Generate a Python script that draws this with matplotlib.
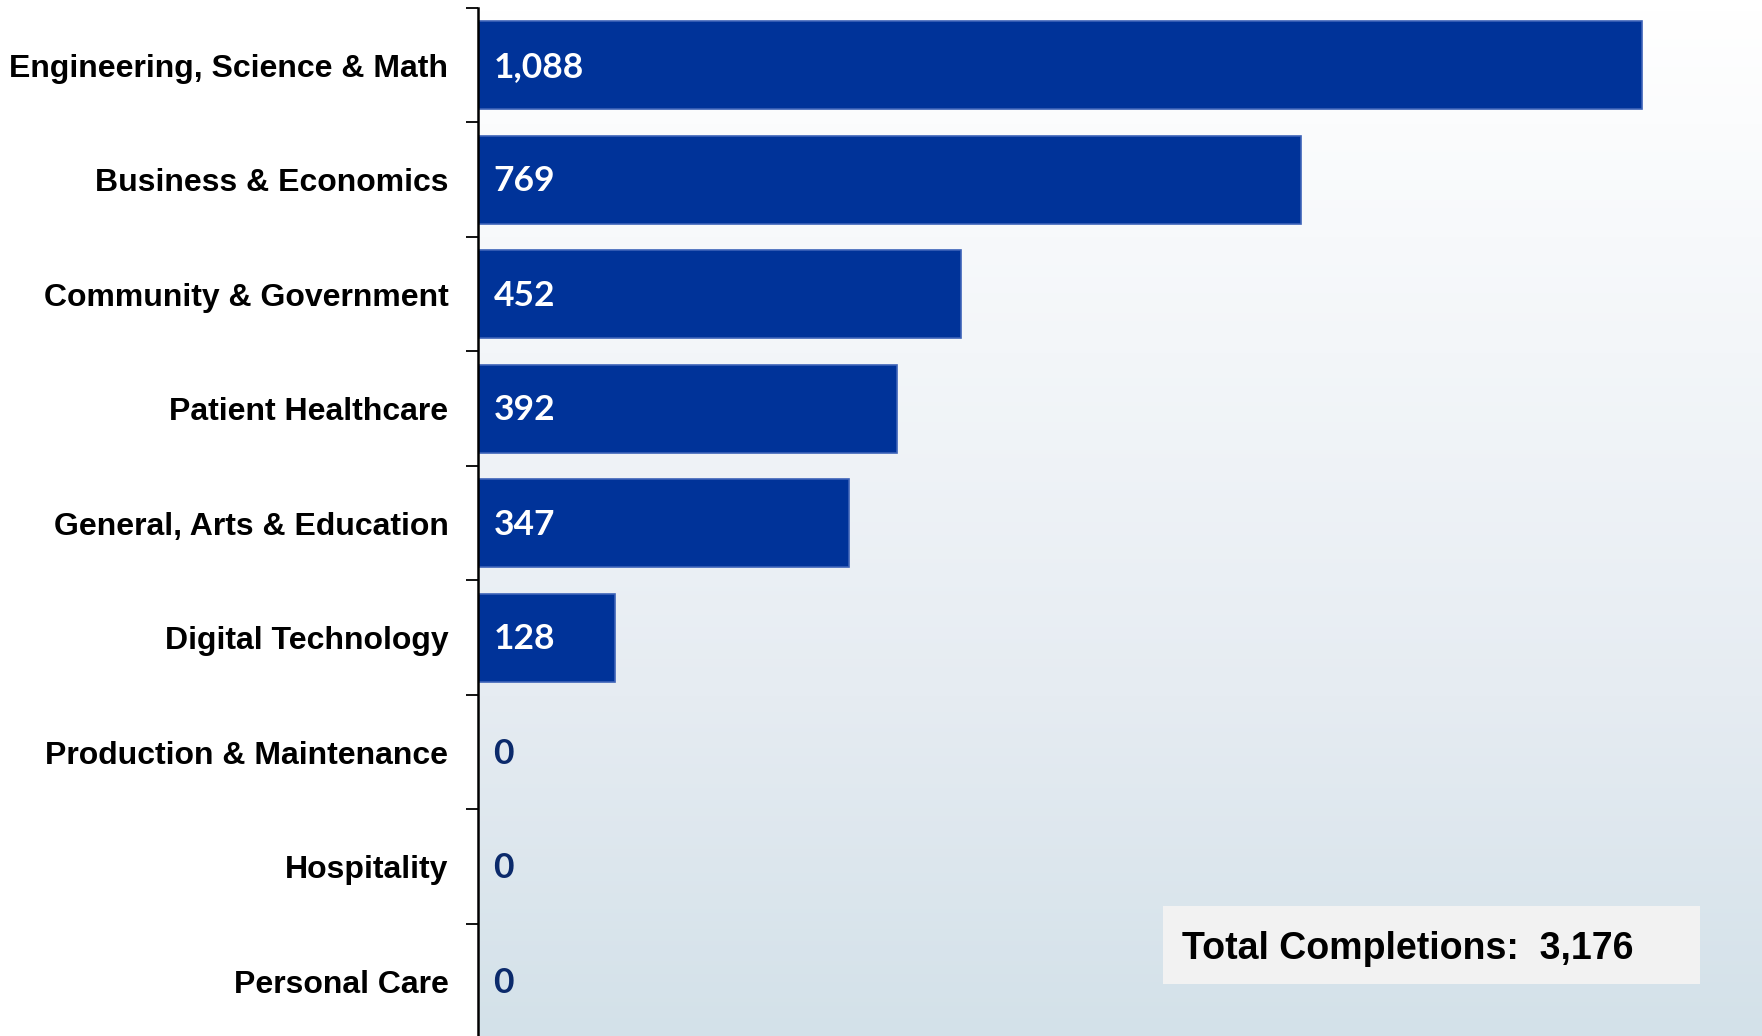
import numpy as np
import matplotlib
matplotlib.use("Agg")
import matplotlib.pyplot as plt
from matplotlib.colors import LinearSegmentedColormap
from matplotlib.patches import Rectangle

categories = ["Engineering, Science & Math", "Business & Economics", "Community & Government",
              "Patient Healthcare", "General, Arts & Education", "Digital Technology",
              "Production & Maintenance", "Hospitality", "Personal Care"]
completions = [1088, 769, 452, 392, 347, 128, 0, 0, 0]
total = sum(completions)

fig = plt.figure(figsize=(17.62, 10.36), dpi=100)
fig.patch.set_facecolor("white")
ax = fig.add_axes([477.6 / 1762, -2.4 / 1036, 1 - 477.6 / 1762, 1 - 5.6 / 1036])

# Hintergrund-Verlauf im Diagrammbereich
grad = LinearSegmentedColormap.from_list("bg", ["#ffffff", "#f3f6f9", "#e6ecf2", "#d3e1e9"])
ax.imshow(np.linspace(0, 1, 256).reshape(-1, 1), cmap=grad, aspect="auto",
          extent=(0, 1, 0, 1), transform=ax.transAxes, zorder=0)

y = np.arange(len(categories))
ax.barh(y, completions, height=0.77, color="#003399", edgecolor="#3d63b8",
        linewidth=1.2, zorder=2)

for yi, v in zip(y, completions):
    ax.annotate(f"{v:,}", (0, yi), xytext=(11.5, -1), textcoords="offset points",
                va="center", ha="left", fontsize=25.5, fontweight="bold",
                family=["Lato", "DejaVu Sans"],
                color="white" if v > 0 else "#0b2a6b", zorder=3)

ax.set_xlim(0, 1200)
ax.set_ylim(8.5 - 2.4 / 114.5, -0.5)
ax.set_yticks(np.arange(-0.5, 9, 1), minor=False)
ax.set_yticklabels([])
ax.set_yticks(y, minor=True)
ax.set_yticklabels(categories, minor=True, fontsize=23, fontweight="bold",
                   family=["Liberation Sans", "DejaVu Sans"])
ax.tick_params(axis="y", which="major", length=9, width=1.3, direction="out", color="black")
ax.tick_params(axis="y", which="minor", length=0, pad=21)
ax.set_xticks([])
for s in ["top", "right", "bottom"]:
    ax.spines[s].set_visible(False)
ax.spines["left"].set_linewidth(1.8)
ax.spines["left"].set_color("black")

# Summenfeld
fig.patches.append(Rectangle((1163 / 1762, 1 - 984 / 1036), 537 / 1762, 78 / 1036,
                             transform=fig.transFigure, facecolor="#f2f2f2",
                             edgecolor="none", zorder=5))
fig.text(1182 / 1762, 1 - 949 / 1036, f"Total Completions:  {total:,}",
         ha="left", va="center", fontsize=27, fontweight="bold",
         family=["Liberation Sans", "DejaVu Sans"], zorder=6)

fig.savefig("out.png", dpi=100)
